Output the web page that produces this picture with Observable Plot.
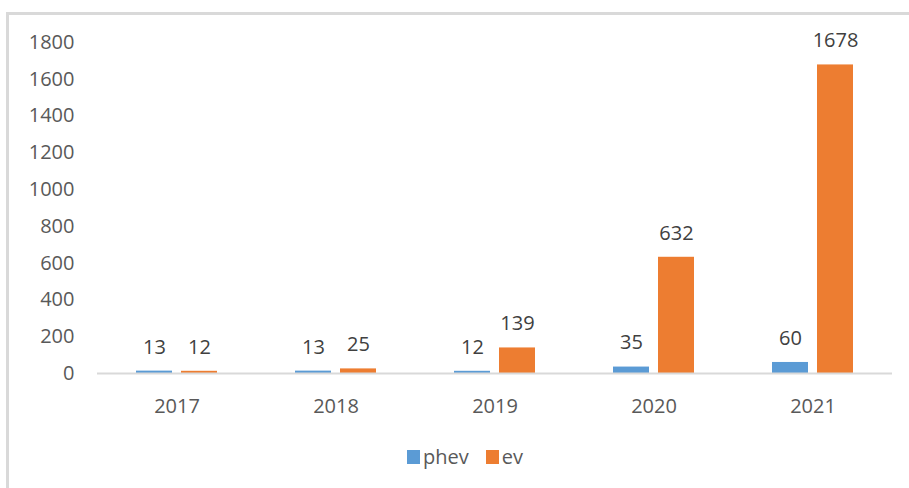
<!DOCTYPE html>
<html>
<head>
<meta charset="utf-8">
<script src="https://cdn.jsdelivr.net/npm/d3@7"></script>
<script src="https://cdn.jsdelivr.net/npm/@observablehq/plot@0.6"></script>
<style>
  html, body { margin: 0; padding: 0; background: #fff; width: 909px; height: 488px; overflow: hidden; position: relative; font-family: "Open Sans", sans-serif; }
  #frame { position: absolute; left: 6px; top: 12px; width: 920px; height: 500px; border-top: 3px solid #d9d9d9; border-left: 3px solid #d9d9d9; box-sizing: border-box; }
  #chart { position: absolute; left: 0; top: 0; }
  #legend { position: absolute; left: 407px; top: 443px; display: flex; align-items: center; font-size: 20px; color: #595959; }
  .item { display: flex; align-items: center; margin-right: 17px; }
  .sw { width: 13px; height: 14px; margin-right: 3px; }
</style>
</head>
<body>
<div id="frame"></div>
<div id="chart"></div>
<div id="legend"></div>
<script>
const years = ["2017", "2018", "2019", "2020", "2021"];
const series = ["phev", "ev"];
const phevValues = [13, 13, 12, 35, 60];
const evValues = [12, 25, 139, 632, 1678];
const yTicks = [0, 200, 400, 600, 800, 1000, 1200, 1400, 1600, 1800];
const colors = ["#5B9BD5", "#ED7D31"];

const data = [];
years.forEach((yr, i) => {
  data.push({year: yr, series: "phev", value: phevValues[i]});
  data.push({year: yr, series: "ev", value: evValues[i]});
});

const chart = Plot.plot({
  width: 909,
  height: 430,
  marginLeft: 96,
  marginRight: 17,
  marginTop: 42,
  marginBottom: 57,
  style: {fontFamily: "'Open Sans', sans-serif", fontSize: "20px", color: "#595959", background: "transparent", overflow: "visible"},
  fx: {domain: years, paddingInner: 0, paddingOuter: 0, label: null, axis: null},
  x: {domain: series, paddingInner: 0.2, paddingOuter: 0.85, axis: null},
  y: {domain: [0, 1800], ticks: yTicks, label: null, axis: null},
  color: {domain: series, range: colors},
  marks: [
    Plot.axisY({ticks: yTicks, tickFormat: d => String(d), tickSize: 0, tickPadding: 23, label: null, fill: "#595959", fontSize: 20}),
    Plot.axisFx({anchor: "bottom", tickSize: 0, tickPadding: 25, label: null, fill: "#595959", fontSize: 20}),
    Plot.barY(data, {fx: "year", x: "series", y: "value", fill: "series"}),
    Plot.ruleY([0], {stroke: "#d9d9d9", strokeWidth: 2}),
    Plot.text(data, {fx: "year", x: "series", y: "value", text: d => String(d.value), dy: -24, fill: "#404040", fontSize: 20})
  ]
});
document.getElementById("chart").appendChild(chart);

const legend = document.getElementById("legend");
series.forEach((s, i) => {
  const item = document.createElement("div");
  item.className = "item";
  const sw = document.createElement("div");
  sw.className = "sw";
  sw.style.background = colors[i];
  const label = document.createElement("span");
  label.textContent = s;
  item.appendChild(sw);
  item.appendChild(label);
  legend.appendChild(item);
});
</script>
</body>
</html>
